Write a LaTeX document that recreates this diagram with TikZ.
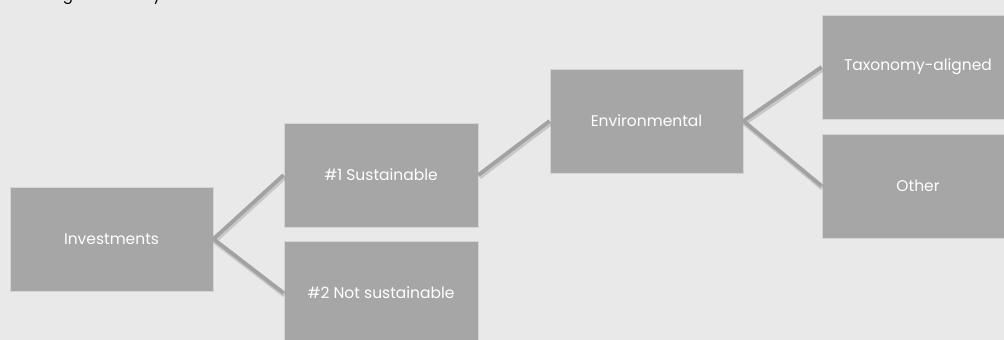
\documentclass[tikz,border=0pt]{standalone}
\usepackage{fontspec}
\setmainfont{Poppins}
\definecolor{bg}{HTML}{E9E9E9}
\definecolor{boxfill}{HTML}{A6A6A6}
\definecolor{boxline}{HTML}{D4D4D4}
\definecolor{conn}{HTML}{A2A2A2}
\definecolor{connshadow}{HTML}{8A8A8A}
\tikzset{
  box/.style={draw=boxline, line width=0.8pt, fill=boxfill, text=white,
    font=\fontsize{15.5}{18}\selectfont, inner sep=0pt, minimum height=104pt},
  conline/.style={draw=conn, line width=3.8pt},
  conshadow/.style={draw=connshadow, line width=5pt, opacity=0.35,
    transform canvas={xshift=1pt,yshift=-2pt}},
  toptext/.style={font=\fontsize{15}{18}\selectfont, text=black, inner sep=0pt, anchor=base}
}
\begin{document}
\begin{tikzpicture}[x=1pt,y=-1pt]
\useasboundingbox (0,0) rectangle (1004,340);
\clip (0,0) rectangle (1004,340);
\fill[bg] (0,0) rectangle (1004,340);
% cut-off line of text at the top
\node[toptext] (tg) at (68,0.5) {g};
\node[toptext] (ty) at (157,0.5) {y};
% boxes
\node[box, minimum width=203pt] (inv) at (111.5,239) {Investments};
\node[box, minimum width=194pt] (s1) at (381,175) {\#1 Sustainable};
\node[box, minimum width=194pt] (s2) at (381,293) {\#2 Not sustainable};
\node[box, minimum width=193pt] (env) at (646.5,121) {Environmental};
\node[box, minimum width=192pt] (tax) at (918,67) {Taxonomy-aligned};
\node[box, minimum width=192pt] (oth) at (918,186) {Other};
% connectors
\foreach \a/\b in {inv/s1, inv/s2, s1/env, env/tax, env/oth}{
  \draw[conshadow] (\a.east) -- (\b.west);
  \draw[conline] (\a.east) -- (\b.west);
}
\end{tikzpicture}
\end{document}
